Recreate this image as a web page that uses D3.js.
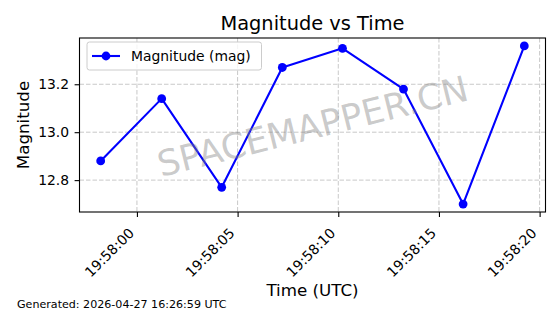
<!DOCTYPE html>
<html>
<head>
<meta charset="utf-8">
<script src="https://cdn.jsdelivr.net/npm/d3@7"></script>
<style>
  html, body { margin: 0; padding: 0; background: #fff; }
  svg { display: block; font-family: "DejaVu Sans", sans-serif; }
</style>
</head>
<body>
<svg id="chart" width="560" height="314"></svg>
<script>
// ---- data ----
const times = ["19:57:58.200", "19:58:01.230", "19:58:04.210", "19:58:07.220",
               "19:58:10.210", "19:58:13.240", "19:58:16.200", "19:58:19.240"];
const magnitudes = [12.88, 13.14, 12.77, 13.27, 13.35, 13.18, 12.70, 13.36];
const yTicks = [12.8, 13.0, 13.2];
const xTickLabels = ["19:58:00", "19:58:05", "19:58:10", "19:58:15", "19:58:20"];
const titleText = "Magnitude vs Time";
const xLabel = "Time (UTC)";
const yLabel = "Magnitude";
const legendLabel = "Magnitude (mag)";
const footer = "Generated: 2026-04-27 16:26:59 UTC";
const watermark = "SPACEMAPPER.CN";

const parse = d3.utcParse("%H:%M:%S.%L");
const parseTick = d3.utcParse("%H:%M:%S");
const data = times.map((t, i) => ({ t: parse(t), v: magnitudes[i] }));
const xTickDates = xTickLabels.map(parseTick);

// ---- layout ----
const pL = 79.5, pR = 545.5, pT = 38, pB = 212;
const svg = d3.select("#chart");

function padded(ext) {
  const span = ext[1] - ext[0];
  return [ext[0] - span * 0.05, ext[1] + span * 0.05];
}
const xExt = d3.extent(data, d => +d.t);
const x = d3.scaleUtc().domain(padded(xExt).map(v => new Date(v))).range([pL, pR]);
const y = d3.scaleLinear().domain(padded(d3.extent(magnitudes))).range([pB, pT]);

// grid
const grid = svg.append("g").attr("stroke", "#b0b0b0").attr("stroke-opacity", 0.7)
  .attr("stroke-width", 1).attr("stroke-dasharray", "4.5,2");
grid.selectAll("line.gx").data(xTickDates).join("line")
  .attr("x1", d => x(d)).attr("x2", d => x(d)).attr("y1", pT).attr("y2", pB);
grid.selectAll("line.gy").data(yTicks).join("line")
  .attr("y1", d => y(d)).attr("y2", d => y(d)).attr("x1", pL).attr("x2", pR);

// axes
const fmt = d3.utcFormat("%H:%M:%S");
const xAxis = d3.axisBottom(x).tickValues(xTickDates).tickFormat(fmt).tickSizeInner(4.9).tickSizeOuter(0).tickPadding(2);
const gx = svg.append("g").attr("transform", `translate(0,${pB})`).call(xAxis);
gx.select(".domain").remove();
gx.selectAll(".tick line").attr("stroke", "#000").attr("stroke-width", 1.1);
gx.selectAll(".tick text")
  .attr("font-size", "13.9px").attr("font-family", "DejaVu Sans").attr("fill", "#000")
  .attr("text-anchor", "end").attr("dy", null).attr("y", 0)
  .attr("transform", "translate(-2.5,22) rotate(-45)");

const yAxis = d3.axisLeft(y).tickValues(yTicks).tickFormat(d3.format(".1f")).tickSizeInner(4.9).tickSizeOuter(0).tickPadding(5.5);
const gy = svg.append("g").attr("transform", `translate(${pL},0)`).call(yAxis);
gy.select(".domain").remove();
gy.selectAll(".tick line").attr("stroke", "#000").attr("stroke-width", 1.1);
gy.selectAll(".tick text").attr("font-size", "13.9px").attr("font-family", "DejaVu Sans").attr("fill", "#000");

// frame
svg.append("rect").attr("x", pL).attr("y", pT).attr("width", pR - pL).attr("height", pB - pT)
  .attr("fill", "none").attr("stroke", "#000").attr("stroke-width", 1.1);

// line + markers
const line = d3.line().x(d => x(d.t)).y(d => y(d.v));
svg.append("path").datum(data).attr("d", line).attr("fill", "none")
  .attr("stroke", "#0000ff").attr("stroke-width", 2.1).attr("stroke-linejoin", "round");
svg.append("g").selectAll("circle").data(data).join("circle")
  .attr("cx", d => x(d.t)).attr("cy", d => y(d.v)).attr("r", 4.4).attr("fill", "#0000ff");

// legend
const lg = svg.append("g");
lg.append("rect").attr("x", 87).attr("y", 42).attr("width", 174.5).attr("height", 28).attr("rx", 2.5)
  .attr("fill", "#fff").attr("fill-opacity", 0.8).attr("stroke", "#cccccc").attr("stroke-width", 1);
lg.append("line").attr("x1", 92).attr("x2", 120).attr("y1", 56).attr("y2", 56)
  .attr("stroke", "#0000ff").attr("stroke-width", 2.1);
lg.append("circle").attr("cx", 106).attr("cy", 56).attr("r", 4.4).attr("fill", "#0000ff");
lg.append("text").attr("x", 131).attr("y", 61).attr("font-size", "13.9px").attr("fill", "#000").text(legendLabel);

// watermark
svg.append("text")
  .attr("transform", `translate(${(pL + pR) / 2},${(pT + pB) / 2 + 1}) rotate(-14)`)
  .attr("text-anchor", "middle").attr("dy", "0.36em")
  .attr("font-size", "35.5px").attr("fill", "#808080").attr("fill-opacity", 0.42)
  .text(watermark);

// title & labels
svg.append("text").attr("x", (pL + pR) / 2).attr("y", 29.5).attr("text-anchor", "middle")
  .attr("font-size", "19.4px").attr("fill", "#000").text(titleText);
svg.append("text").attr("x", (pL + pR) / 2).attr("y", 296).attr("text-anchor", "middle")
  .attr("font-size", "16.7px").attr("fill", "#000").text(xLabel);
svg.append("text").attr("transform", `translate(29,${(pT + pB) / 2}) rotate(-90)`)
  .attr("text-anchor", "middle").attr("font-size", "16.7px").attr("fill", "#000").text(yLabel);
svg.append("text").attr("x", 17).attr("y", 308).attr("font-size", "11.1px").attr("fill", "#000").text(footer);
</script>
</body>
</html>
